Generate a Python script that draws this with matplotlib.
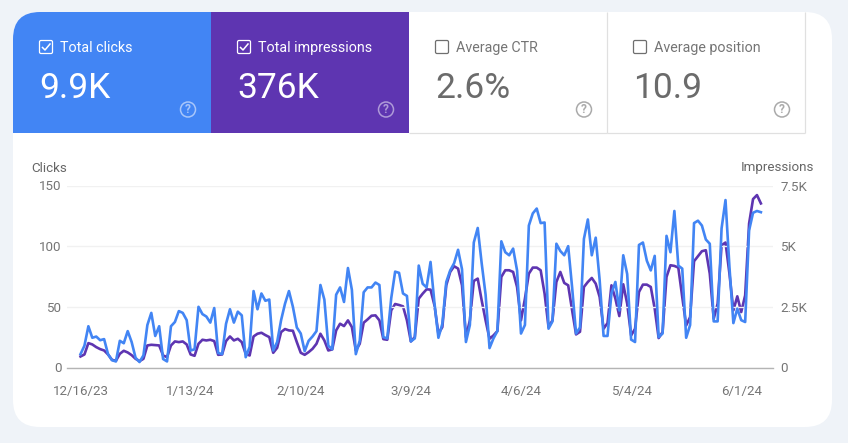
#!/usr/bin/env python
import numpy as np
import matplotlib
matplotlib.use("Agg")
import matplotlib.pyplot as plt
from matplotlib.patches import FancyBboxPatch, Rectangle, Circle

plt.rcParams['font.family'] = ['Roboto', 'DejaVu Sans']

clicks = [11, 18, 34, 24.5, 25.5, 22.5, 23.4, 11, 6, 5, 22, 20, 30, 21, 8, 4.5, 10, 35, 45, 26,
          34, 7, 5, 34, 37.5, 46.5, 45, 39, 14, 15, 50, 44, 42, 37, 49, 12, 11, 36, 48, 37,
          46, 43, 8.5, 17, 63, 48, 61, 55, 56, 14, 21, 39, 52.6, 63, 50, 33, 28, 13.5, 22, 25.6,
          30, 68, 56, 18, 15, 60, 66, 54, 82, 64, 11, 22, 62, 66, 66, 70, 68, 25, 24, 57,
          79, 78, 61, 59, 21.5, 24, 84, 69, 66, 87, 53, 24.5, 36, 70.5, 80, 86, 97, 81, 21, 35,
          103, 115, 86, 60, 16, 24, 30, 104, 95, 92.5, 98, 80, 28, 35, 117, 127, 131, 119, 119.5, 32,
          38, 102, 96, 92.5, 100, 66, 28, 33, 106, 122, 92.5, 107, 72, 26, 26, 61, 70.5, 47, 92.5, 77,
          23, 21, 101, 103, 88, 80, 92, 25, 28, 108.5, 95, 129, 84, 81.5, 24.5, 35, 119, 121, 117, 105.5,
          102, 38, 38, 114.6, 138, 83, 36.6, 48.5, 39, 37.5, 113, 127.5, 129, 128]

impressions = [454, 537, 1005, 950, 840, 757, 702, 537, 317, 275, 565, 689, 620, 510, 358, 262, 358, 909, 936, 923,
               909, 496, 427, 909, 1074, 1046, 1074, 950, 537, 482, 978, 1143, 1115, 1143, 1088, 523, 537, 1088, 1280, 1115,
               1184, 1046, 565, 496, 1280, 1391, 1432, 1336, 1253, 606, 812, 1460, 1584, 1528, 1515, 1046, 606, 523, 633, 771,
               978, 1391, 1115, 702, 744, 1528, 1804, 1707, 1942, 1666, 702, 978, 1845, 1983, 2134, 2148, 1942, 1170, 1143, 2355,
               2616, 2575, 2520, 1942, 1074, 1253, 2837, 3043, 3222, 3208, 2561, 1391, 1666, 3387, 3938, 4172, 4076, 3387, 1253, 1942,
               3566, 3663, 2768, 1942, 1184, 1322, 1501, 3732, 4007, 4007, 3938, 3319, 1942, 2837, 3869, 4117, 4117, 4007, 3043, 1666,
               1942, 3525, 3938, 3484, 3387, 2355, 1363, 1473, 3319, 3525, 3690, 3456, 2905, 1597, 1831, 3387, 2837, 2120, 3429, 2630,
               1322, 1597, 3112, 3415, 3415, 3319, 2424, 1212, 1460, 3732, 4214, 4186, 4117, 2905, 1735, 2079, 4379, 4585, 4792, 4833,
               3869, 2010, 2630, 5040, 5150, 3869, 2355, 2933, 2286, 2974, 5935, 6940, 7105, 6761]

date_ticks = [0, 28, 56, 84, 112, 140, 168]
date_labels = ['12/16/23', '1/13/24', '2/10/24', '3/9/24', '4/6/24', '5/4/24', '6/1/24']
click_ticks = [0, 50, 100, 150]
impression_ticks = [0, 2500, 5000, 7500]
impression_labels = ['0', '2.5K', '5K', '7.5K']

tile_names = ['Total clicks', 'Total impressions', 'Average CTR', 'Average position']
tile_values = ['9.9K', '376K', '2.6%', '10.9']

W, H = 848, 443
BLUE = '#4285f4'
PURPLE = '#5e35b1'
GRAY = '#757575'

fig = plt.figure(figsize=(W / 100, H / 100), dpi=100, facecolor='#eff3f8')

# page furniture in pixel coordinates
bg = fig.add_axes([0, 0, 1, 1])
bg.set_xlim(0, W)
bg.set_ylim(H, 0)
bg.axis('off')

card = FancyBboxPatch((13, 12), 819, 415, boxstyle='round,pad=0,rounding_size=27', fc='white', ec='none')
bg.add_patch(card)

tile_x = [13, 211, 409, 607]
tile_fill = [BLUE, PURPLE, 'white', 'white']
for i, name in enumerate(tile_names):
    x = tile_x[i]
    selected = i < 2
    fg = 'white' if selected else GRAY
    r = Rectangle((x, 12), 198, 121, fc=tile_fill[i], ec='none')
    bg.add_patch(r)
    r.set_clip_path(card)
    if not selected:
        bg.plot([x, x + 197.5], [133, 133], color='#e0e0e0', lw=0.9, solid_capstyle='butt')
        bg.plot([x + 197.5, x + 197.5], [12, 133], color='#e0e0e0', lw=0.9, solid_capstyle='butt')
    bg.add_patch(FancyBboxPatch((x + 26.5, 40.5), 13, 13, boxstyle='round,pad=0,rounding_size=1.5',
                                fc='none', ec='white' if selected else '#6f6f6f', lw=0.9))
    if selected:
        bg.plot([x + 29.5, x + 32, x + 37], [47.5, 50, 44], color='white', lw=1.1)
    bg.text(x + 47, 47.5, name, color=fg, fontsize=10.25, va='center', ha='left')
    bg.text(x + 26.5, 98, tile_values[i], color='white' if selected else '#6b6b6b', fontsize=25.5, va='baseline', ha='left')
    icon = '#a8c6fa' if i == 0 else ('#ae9ad8' if i == 1 else '#aaaaaa')
    bg.add_patch(Circle((x + 175, 109.5), 7.5, fc='none', ec=icon, lw=1.1))
    bg.text(x + 175, 109.7, '?', color=icon, fontsize=8.6, fontweight='bold', va='center', ha='center')

# chart
left, right, top, bottom = 67, 772.5, 185.5, 367.5
ax = fig.add_axes([left / W, 1 - bottom / H, (right - left) / W, (bottom - top) / H])
ax.patch.set_alpha(0)
ax2 = ax.twinx()
days = np.arange(len(clicks))

ax2.plot(days, impressions, color=PURPLE, lw=1.9, solid_joinstyle='round')
ax.set_zorder(ax2.get_zorder() + 1)
ax.plot(days, clicks, color=BLUE, lw=1.9, solid_joinstyle='round')

ax.set_xlim(-3.435, 175.95)
ax.set_ylim(0, 150)
ax2.set_ylim(0, 7500)
ax.set_yticks(click_ticks)
ax2.set_yticks(impression_ticks)
ax2.set_yticklabels(impression_labels)
ax.set_xticks(date_ticks)
ax.set_xticklabels(date_labels)
ax.grid(axis='y', color='#f1f1f1', lw=1)
ax.set_axisbelow(True)

for a in (ax, ax2):
    for s in ('top', 'left', 'right', 'bottom'):
        a.spines[s].set_visible(False)
ax.spines['bottom'].set_visible(True)
ax.spines['bottom'].set_color('#b4b4b4')
ax.spines['bottom'].set_linewidth(1)
ax.tick_params(axis='both', length=0, labelsize=9.6, labelcolor=GRAY)
ax.tick_params(axis='x', pad=12.5)
ax.tick_params(axis='y', pad=4)
ax2.tick_params(axis='y', length=0, labelsize=9.6, labelcolor=GRAY, pad=5.5)

bg.text(31, 168, 'Clicks', color='#666666', fontsize=9.6, va='center', ha='left')
bg.text(814, 168, 'Impressions', color='#666666', fontsize=9.6, va='center', ha='right')

fig.savefig('out.png', dpi=100, facecolor=fig.get_facecolor())
